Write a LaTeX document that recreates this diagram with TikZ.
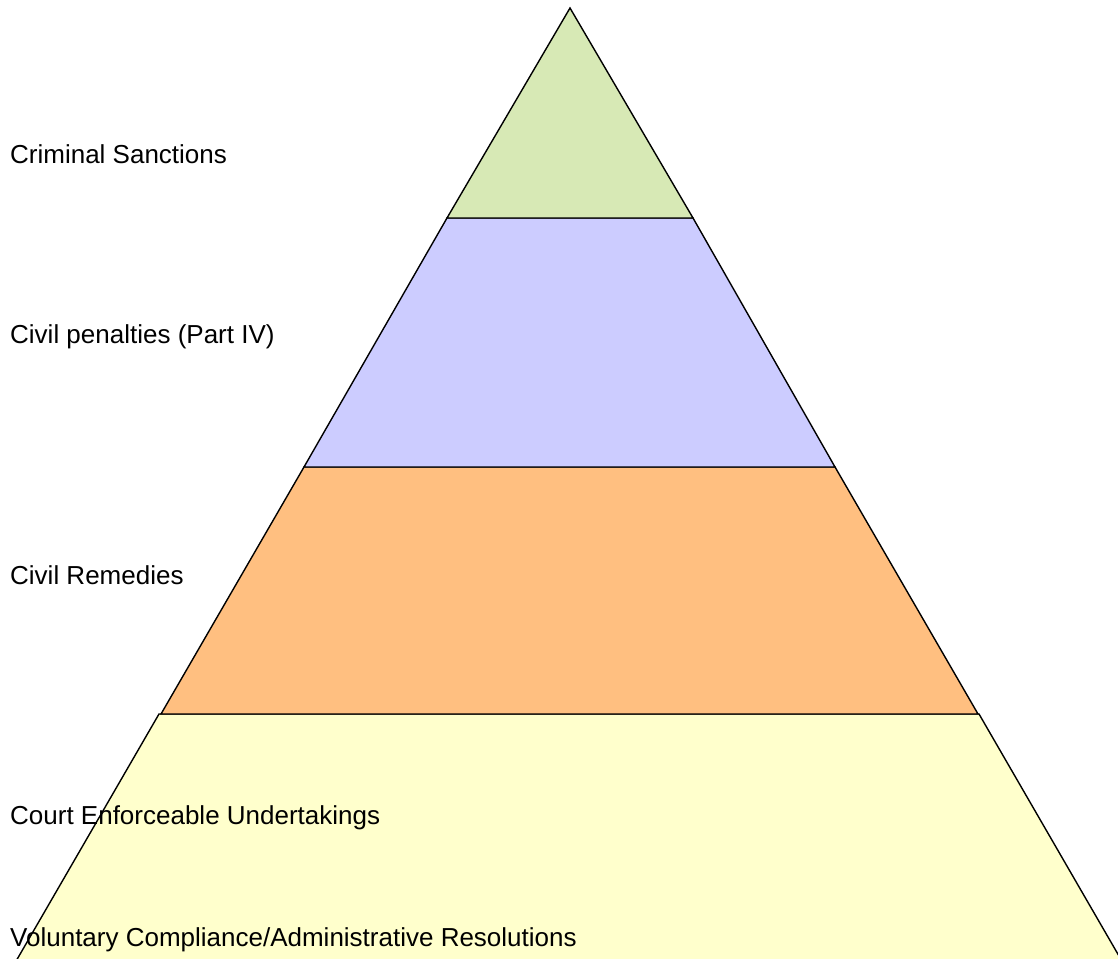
\documentclass[tikz,border=0pt]{standalone}
\usepackage{fontspec}
\setmainfont{Liberation Sans}
\definecolor{lgreen}{RGB}{215,233,181}
\definecolor{lblue}{RGB}{204,204,255}
\definecolor{lorange}{RGB}{255,191,128}
\definecolor{lyellow}{RGB}{255,255,204}
\begin{document}
\begin{tikzpicture}[x=1pt,y=-1pt,
  layer/.style={draw=black,line width=1.4pt,line join=miter},
  lbl/.style={anchor=base west,inner sep=0pt,font=\fontsize{26}{31}\selectfont}]
\useasboundingbox (0,0) rectangle (1118,958);
\clip (0,0) rectangle (1118,958);
\fill[white] (0,0) rectangle (1118,958);
% layers
\path[layer,fill=lyellow] (159,714) -- (979,714) -- (1130,975) -- (8,975) -- cycle;
\path[layer,fill=lorange] (304,467) -- (835,467) -- (978,714) -- (161,714) -- cycle;
\path[layer,fill=lblue] (447,218) -- (693,218) -- (835,467) -- (304,467) -- cycle;
\path[layer,fill=lgreen] (570,8) -- (693,218) -- (447,218) -- cycle;
% labels
\node[lbl] (l1) at (10,163) {Criminal Sanctions};
\node[lbl] (l2) at (10,343) {Civil penalties (Part IV)};
\node[lbl] (l3) at (10,584) {Civil Remedies};
\node[lbl] (l4) at (10,824) {Court Enforceable Undertakings};
\node[lbl] (l5) at (10,946) {Voluntary Compliance/Administrative Resolutions};
\end{tikzpicture}
\end{document}
